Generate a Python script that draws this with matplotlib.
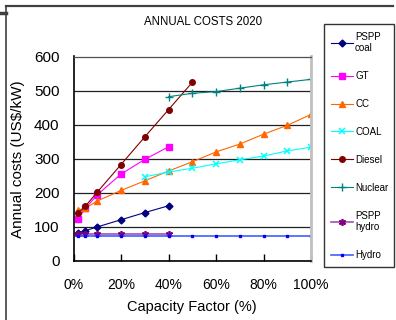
import matplotlib
matplotlib.use("Agg")
import matplotlib.pyplot as plt
from matplotlib.lines import Line2D

plt.rcParams['font.family'] = ['Liberation Sans', 'DejaVu Sans']

# capacity factor (%) and annual costs (US$/kW)
cf_short = [2, 5, 10, 20, 30, 40]
cf_diesel = [2, 5, 10, 20, 30, 40, 50]
cf_full = [2, 5, 10, 20, 30, 40, 50, 60, 70, 80, 90, 100]
cf_coal = [30, 40, 50, 60, 70, 80, 90, 100]
cf_nuclear = [40, 50, 60, 70, 80, 90, 100]
cf_hydro = [2, 5, 10, 20, 30, 40, 50, 60, 70, 80, 90, 100]

pspp_coal = [83, 89, 100, 121, 142, 162]
gt = [123, 155, 194, 255, 298, 335]
cc = [150, 155, 176, 207, 235, 264, 291, 320, 343, 372, 398, 430]
coal = [247, 261, 272, 285, 297, 308, 323, 334]
diesel = [140, 161, 202, 283, 364, 444, 524]
nuclear = [482, 492, 497, 507, 517, 525, 533]
pspp_hydro = [80, 80, 80, 80, 80, 80]
hydro = [72, 72, 72, 72, 72, 72, 72, 72, 72, 72, 72, 72]

x_ticks = [0, 20, 40, 60, 80, 100]
x_labels = ['0%', '20%', '40%', '60%', '80%', '100%']
y_ticks = [0, 100, 200, 300, 400, 500, 600]

fig = plt.figure(figsize=(3.96, 3.2), dpi=100)
ax = fig.add_axes([73.5 / 396, 1 - 261 / 320, 237.5 / 396, 204.5 / 320])

lw = 0.8
ax.plot(cf_short, pspp_coal, color='#000080', marker='D', ms=3.5, lw=lw, label='PSPP\ncoal')
ax.plot(cf_short, gt, color='#ff00ff', marker='s', ms=4, lw=lw, label='GT')
ax.plot(cf_full, cc, color='#ff6600', marker='^', ms=5, lw=lw, label='CC')
ax.plot(cf_coal, coal, color='#00ffff', marker='x', ms=5, mew=1.1, lw=lw, label='COAL')
ax.plot(cf_diesel, diesel, color='#800000', marker='o', ms=4, lw=lw, label='Diesel')
ax.plot(cf_nuclear, nuclear, color='#008080', marker='+', ms=6, mew=1, lw=lw, label='Nuclear')
ax.plot(cf_short, pspp_hydro, color='#a050b0', marker=(6, 2, 0), ms=5, mew=1.2,
        mec='#800080', lw=1.2, label='PSPP\nhydro')
ax.plot(cf_hydro, hydro, color='#4060ff', marker='s', ms=1.8, mec='#0000ff', mfc='#0000ff',
        lw=1.2, label='Hydro')

ax.set_xlim(0, 100)
ax.set_ylim(0, 600)
ax.set_xticks(x_ticks)
ax.set_xticklabels(x_labels)
ax.set_yticks(y_ticks)
ax.tick_params(axis='x', direction='in', length=5, width=1, pad=12, labelsize=10)
ax.tick_params(axis='y', length=0, pad=10, labelsize=11)
ax.grid(axis='y', color='#202020', lw=0.9)
ax.set_axisbelow(True)
for s in ['left', 'bottom']:
    ax.spines[s].set_color('black')
    ax.spines[s].set_linewidth(1.2)
ax.spines['top'].set_color('#505050')
ax.spines['top'].set_linewidth(0.9)
ax.spines['right'].set_color('#c0c0c0')
ax.spines['right'].set_linewidth(2)

ax.set_xlabel('Capacity Factor (%)', fontsize=10.5)
ax.xaxis.set_label_coords(0.5, -0.19)
ax.xaxis.label.set_va('top')
ax.set_ylabel('Annual costs (US$/kW)', fontsize=11)
ax.yaxis.set_label_coords(-0.205, 0.5)

fig.text(203 / 396, 1 - 22 / 320, 'ANNUAL COSTS 2020', fontsize=8.3, ha='center', va='center')

leg = fig.legend(loc='upper left', bbox_to_anchor=(324 / 396, 0, 70 / 396, 1 - 24.3 / 320),
                 mode='expand', fontsize=7, frameon=True, fancybox=False, edgecolor='black',
                 handlelength=2.2, handletextpad=0.25, borderpad=0.75, labelspacing=1.84,
                 borderaxespad=0)
leg.get_frame().set_linewidth(1)

# outer chart frame
fc = '#404040'
fig.add_artist(Line2D([6 / 396, 393 / 396], [1 - 6 / 320, 1 - 6 / 320], color=fc, lw=1.6))
fig.add_artist(Line2D([6 / 396, 6 / 396], [1 - 6 / 320, 0], color=fc, lw=1.2))
fig.add_artist(Line2D([0, 6 / 396], [1 - 13 / 320, 1 - 13 / 320], color=fc, lw=2.5))

fig.savefig('out.png', dpi=100)
